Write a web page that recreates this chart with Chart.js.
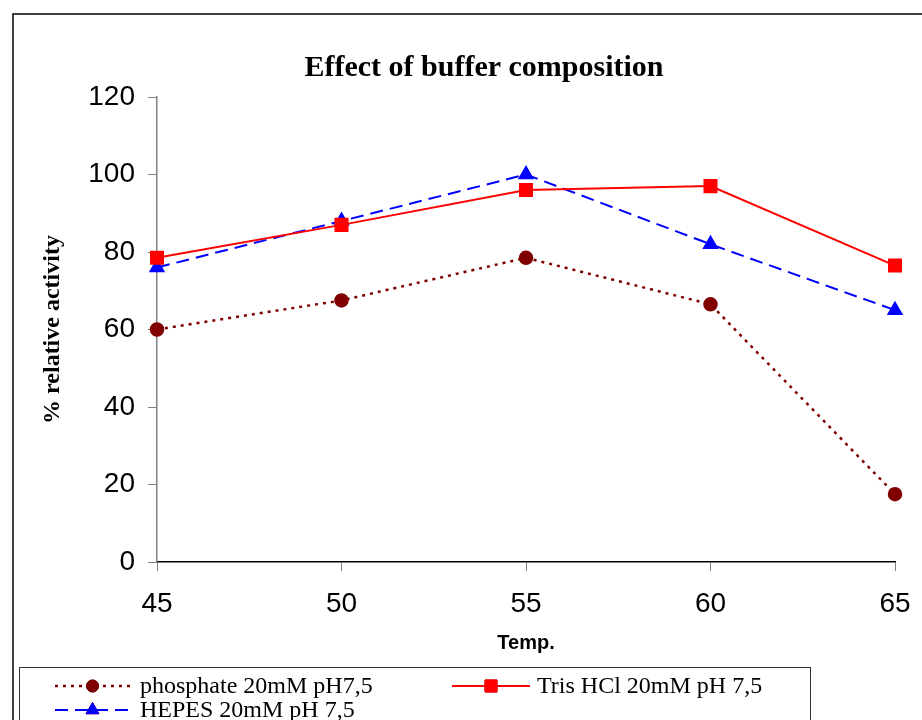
<!DOCTYPE html>
<html>
<head>
<meta charset="utf-8">
<script src="https://cdn.jsdelivr.net/npm/chart.js@4/dist/chart.umd.min.js"></script>
<style>
  html, body { margin: 0; padding: 0; background: #fff; }
  #wrap { width: 922px; height: 720px; }
</style>
</head>
<body>
<div id="wrap"><canvas id="bufferChart" width="922" height="720"></canvas></div>
<script>
// Data
const temps = [45, 50, 55, 60, 65];
const phosphate = [60, 67.5, 78.5, 66.5, 17.5];
const trisHCl = [78.5, 87, 96, 97, 76.5];
const hepes = [76, 88, 100, 82, 65];
const seriesLabels = ['phosphate 20mM pH7,5', 'Tris HCl 20mM pH 7,5', 'HEPES 20mM pH 7,5'];
const yTicks = [0, 20, 40, 60, 80, 100, 120];
const xTicks = [45, 50, 55, 60, 65];

const toPoints = vals => temps.map((t, i) => ({ x: t, y: vals[i] }));

// Title, outer frame and the boxed legend are drawn by hand (Excel-style)
const framePlugin = {
    id: 'frame',
    afterDraw(chart) {
        const ctx = chart.ctx;
        ctx.save();
        // outer frame
        ctx.strokeStyle = '#000';
        ctx.lineWidth = 1.5;
        ctx.strokeRect(13, 14, 1000, 1000);

        // title
        ctx.fillStyle = '#000';
        ctx.font = 'bold 30px "Liberation Serif", "Times New Roman", serif';
        ctx.textAlign = 'center';
        ctx.textBaseline = 'middle';
        ctx.fillText('Effect of buffer composition', 484, 68);

        // legend box
        ctx.strokeStyle = '#333';
        ctx.lineWidth = 1;
        ctx.strokeRect(19.5, 667.5, 791, 100);

        const slots = [
            { x0: 55, x1: 130, y: 686, tx: 140 },
            { x0: 452, x1: 530, y: 686, tx: 537 },
            { x0: 55, x1: 130, y: 710, tx: 140 }
        ];
        chart.data.datasets.forEach((ds, i) => {
            const s = slots[i];
            ctx.save();
            ctx.strokeStyle = ds.borderColor;
            ctx.lineWidth = ds.borderWidth;
            ctx.setLineDash(ds.borderDash || []);
            ctx.beginPath();
            ctx.moveTo(s.x0, s.y);
            ctx.lineTo(s.x1, s.y);
            ctx.stroke();
            ctx.restore();
            Chart.helpers.drawPoint(ctx, {
                pointStyle: ds.pointStyle,
                radius: ds.pointRadius,
                rotation: 0,
                borderWidth: 1
            }, (s.x0 + s.x1) / 2, s.y);
            ctx.fillStyle = ds.pointBackgroundColor;
            ctx.strokeStyle = ds.pointBorderColor;
            ctx.fill();
            ctx.stroke();
            ctx.fillStyle = '#000';
            ctx.font = '24px "Liberation Serif", "Times New Roman", serif';
            ctx.textAlign = 'left';
            ctx.textBaseline = 'middle';
            ctx.fillText(ds.label, s.tx, s.y + 1);
        });
        ctx.restore();
    }
};

const ctx = document.getElementById('bufferChart').getContext('2d');
new Chart(ctx, {
    type: 'line',
    data: {
        datasets: [
            {
                label: seriesLabels[0],
                data: toPoints(phosphate),
                borderColor: '#800000',
                borderWidth: 2.5,
                borderDash: [3, 5],
                pointStyle: 'circle',
                pointRadius: 6,
                pointBackgroundColor: '#800000',
                pointBorderColor: '#800000',
                tension: 0,
                clip: false
            },
            {
                label: seriesLabels[1],
                data: toPoints(trisHCl),
                borderColor: '#ff0000',
                borderWidth: 2,
                pointStyle: 'rect',
                pointRadius: 8.5,
                pointBackgroundColor: '#ff0000',
                pointBorderColor: '#ff0000',
                tension: 0,
                clip: false
            },
            {
                label: seriesLabels[2],
                data: toPoints(hepes),
                borderColor: '#0000ff',
                borderWidth: 2,
                borderDash: [13, 7],
                pointStyle: 'triangle',
                pointRadius: 7.5,
                pointBackgroundColor: '#0000ff',
                pointBorderColor: '#0000ff',
                tension: 0,
                clip: false
            }
        ]
    },
    options: {
        responsive: false,
        animation: false,
        layout: { padding: { left: 34, right: 27, top: 97, bottom: 58 } },
        plugins: {
            legend: { display: false },
            title: { display: false },
            tooltip: { enabled: false }
        },
        scales: {
            x: {
                type: 'linear',
                min: 45,
                max: 65,
                afterBuildTicks: axis => { axis.ticks = xTicks.map(v => ({ value: v })); },
                afterFit: axis => {
                    axis.height = 100;
                    axis.paddingLeft = 0;
                    axis.paddingRight = 0;
                },
                border: { color: '#000', width: 1.5 },
                grid: { drawOnChartArea: false, color: '#808080', tickLength: 9 },
                ticks: {
                    color: '#000',
                    padding: 16,
                    font: { family: '"Liberation Sans", Arial, sans-serif', size: 28 }
                },
                title: {
                    display: true,
                    text: 'Temp.',
                    color: '#000',
                    padding: { top: 2, bottom: 7 },
                    font: { family: '"Liberation Sans", Arial, sans-serif', size: 20, weight: 'bold' }
                }
            },
            y: {
                min: 0,
                max: 120,
                afterBuildTicks: axis => { axis.ticks = yTicks.map(v => ({ value: v })); },
                afterFit: axis => { axis.width = 123; },
                border: { color: '#808080', width: 1.5 },
                grid: { drawOnChartArea: false, color: '#808080', tickLength: 9 },
                ticks: {
                    color: '#000',
                    padding: 13,
                    font: { family: '"Liberation Sans", Arial, sans-serif', size: 28 }
                },
                title: {
                    display: true,
                    text: '% relative activity',
                    color: '#000',
                    padding: { top: 4, bottom: 4 },
                    font: { family: '"Liberation Serif", "Times New Roman", serif', size: 24, weight: 'bold' }
                }
            }
        }
    },
    plugins: [framePlugin]
});
</script>
</body>
</html>
